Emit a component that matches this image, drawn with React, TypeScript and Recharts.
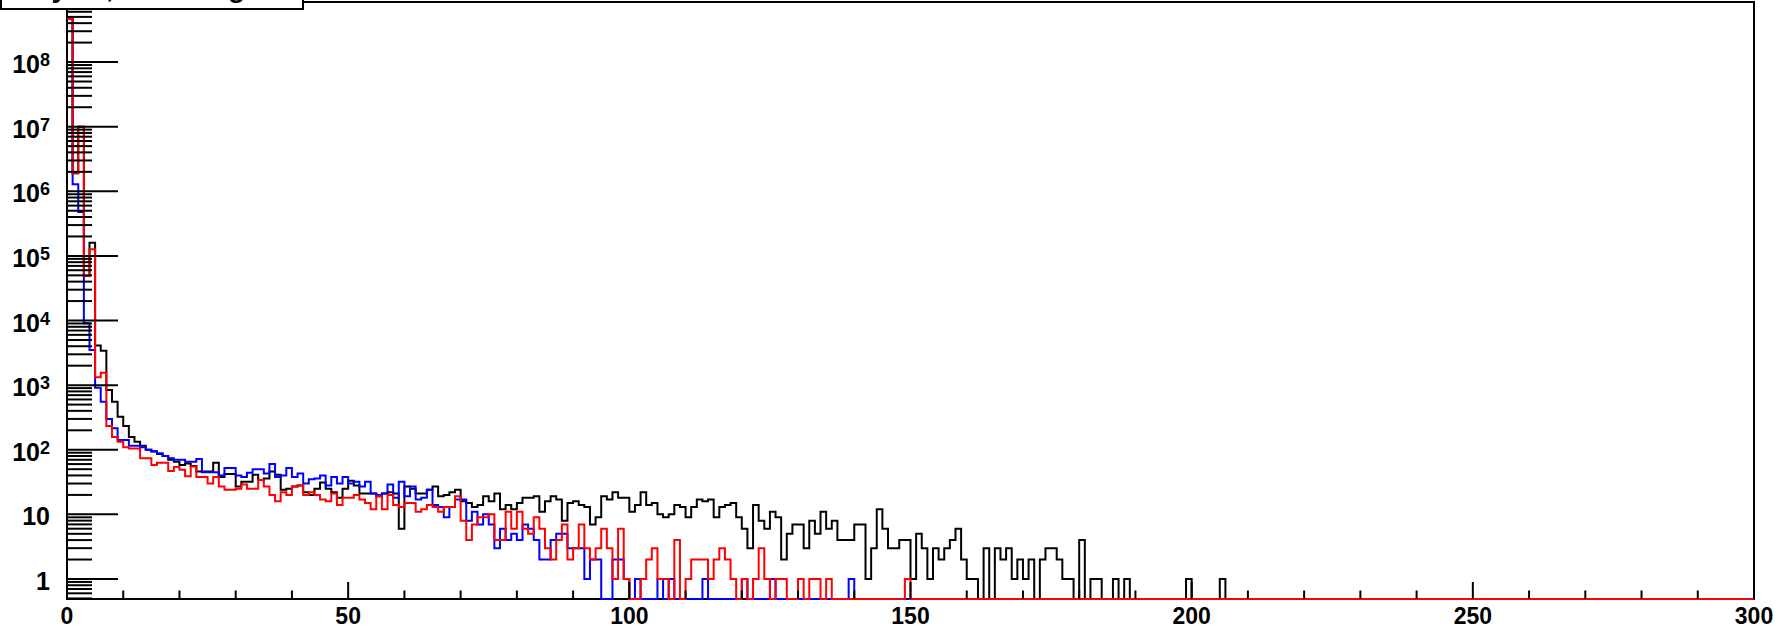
import React from 'react';
import { LineChart, Line, XAxis, YAxis, ReferenceArea } from 'recharts';

// canvas + axis ranges
const W = 1790;
const H = 631;
const X_MAX = 300;
const Y_MIN = 0.49;
const Y_MAX = 8.5e8;

// counts per bin (bin width 1)
const blackCounts = [
  4.7e8, 1.9e6, 1.0e7, 4.9e4, 1.6e5, 4100, 3400, 840, 555, 325,
  233, 158, 133, 115, 100, 94, 86, 80, 70, 65,
  58, 61, 56, 46, 46, 46, 63, 38, 42, 42,
  27, 32, 32, 41, 34, 36, 46, 41, 24, 25,
  27, 28, 22, 20, 25, 31, 25, 22, 18, 25,
  33, 28, 21, 21, 21, 19, 21, 22, 21, 6,
  27, 25, 21, 21, 24, 27, 19, 20, 22, 24,
  16, 15, 13, 14, 19, 16, 21, 12, 14, 12,
  15, 18, 18, 19, 11, 16, 19, 17, 8, 15,
  16, 14, 13, 7, 9, 19, 17, 22, 18, 18,
  11, 14, 22, 14, 15, 10, 9, 10, 14, 13,
  9, 13, 17, 16, 17, 9, 13, 14, 15, 9,
  6, 3, 14, 8, 6, 11, 9, 2, 5, 7,
  7, 3, 8, 5, 11, 6, 8, 4, 4, 4,
  7, 7, 1, 3, 12, 6, 3, 3, 4, 4,
  1, 5, 3, 1, 3, 2, 3, 4, 6, 2,
  1, 1, 0, 3, 0, 3, 2, 3, 1, 2,
  1, 2, 0, 2, 3, 3, 2, 1, 1, 0,
  4, 0, 1, 1, 0, 0, 1, 0, 1, 0,
  0, 0, 0, 0, 0, 0, 0, 0, 0, 1,
  0, 0, 0, 0, 0, 1, 0,
];

const blueCounts = [
  4.7e8, 1.28e6, 4.8e5, 9100, 3500, 910, 555, 300, 215, 141,
  141, 115, 115, 109, 100, 95, 88, 80, 74, 70,
  70, 65, 65, 72, 45, 45, 45, 40, 52, 52,
  40, 38, 44, 50, 50, 43, 60, 38, 40, 52,
  38, 43, 30, 35, 36, 40, 28, 38, 30, 38,
  30, 32, 27, 32, 21, 20, 21, 29, 18, 32,
  19, 27, 17, 18, 24, 14, 13, 9, 13, 17,
  17, 8, 11, 7, 10, 7, 3, 6, 4, 5,
  4, 7, 6, 4, 2, 2, 4, 5, 5, 3,
  3, 3, 1, 2, 2, 0, 0, 2, 2, 1,
  0, 1, 0, 0, 0, 1, 0, 1, 0, 0,
  0, 0, 0, 1, 0, 0, 0, 0, 0, 0,
  1, 0, 0, 0, 0, 1, 0, 0, 0, 0,
  0, 0, 0, 0, 0, 0, 0, 0, 0, 1,
  0,
];

const redCounts = [
  4.7e8, 1.9e6, 1.0e7, 4.9e4, 1.27e5, 1320, 1560, 233, 158, 133,
  109, 105, 105, 74, 74, 58, 63, 63, 47, 54,
  49, 39, 55, 38, 38, 30, 38, 27, 24, 24,
  25, 29, 25, 25, 34, 27, 20, 16, 22, 20,
  27, 28, 20, 22, 20, 17, 16, 21, 14, 18,
  18, 20, 17, 15, 12, 19, 12, 20, 14, 13,
  15, 15, 11, 12, 14, 13, 11, 13, 13, 19,
  8, 4, 7, 9, 9, 10, 4, 4, 11, 6,
  11, 6, 5, 9, 6, 3, 2, 4, 7, 2,
  3, 7, 3, 2, 3, 6, 3, 1, 6, 1,
  0, 0, 1, 2, 3, 1, 1, 0, 4, 0,
  1, 2, 2, 2, 1, 2, 3, 2, 1, 0,
  1, 0, 1, 3, 1, 0, 1, 1, 0, 0,
  1, 0, 1, 1, 0, 1, 0, 0, 0, 0,
  0, 0, 0, 0, 0, 0, 0, 0, 0, 1,
  0,
];

const xTicks = [0, 10, 20, 30, 40, 50, 60, 70, 80, 90, 100, 110, 120, 130, 140, 150, 160, 170, 180, 190, 200,
  210, 220, 230, 240, 250, 260, 270, 280, 290, 300];
const xLabelStep = 50;

const yTicks: number[] = [];
for (let e = -1; e <= 8; e++) {
  for (let m = 1; m <= 9; m++) {
    const v = m * Math.pow(10, e);
    if (v >= Y_MIN && v <= Y_MAX) yTicks.push(v);
  }
}

const FONT = '"Liberation Sans", Arial, Helvetica, sans-serif';

// histogram -> stepAfter points, empty bins sit on the axis floor
const toSteps = (counts: number[]) => {
  const pts = counts.map((c, i) => ({ x: i, y: c > 0 ? c : Y_MIN }));
  pts.push({ x: X_MAX, y: Y_MIN });
  return pts;
};

const YTick = (props: any) => {
  const { x, y, payload } = props;
  const v = payload.value as number;
  const e = Math.floor(Math.log10(v) + 1e-9);
  const m = Math.round(v / Math.pow(10, e));
  const major = m === 1;
  let label: React.ReactNode = null;
  if (major) {
    if (e === 0) label = '1';
    else if (e === 1) label = '10';
    else label = (
      <>
        10<tspan dy={-7} fontSize={18}>{e}</tspan>
      </>
    );
  }
  return (
    <g>
      <line x1={x} x2={x + (major ? 51 : 25)} y1={y} y2={y} stroke="#000" strokeWidth={2} />
      {major && (
        <text x={x - 17} y={y + 11} textAnchor="end" fontSize={25} fontWeight="bold" fontFamily={FONT} fill="#000">
          {label}
        </text>
      )}
    </g>
  );
};

const XTick = (props: any) => {
  const { x, y, payload } = props;
  const v = payload.value as number;
  const major = v % xLabelStep === 0;
  return (
    <g>
      <line x1={x} x2={x} y1={y} y2={y - (major ? 17 : 8.5)} stroke="#000" strokeWidth={2} />
      {major && (
        <text x={x} y={y + 25} textAnchor="middle" fontSize={23} fontWeight="bold" fontFamily={FONT} fill="#000">
          {v}
        </text>
      )}
    </g>
  );
};

const App = () => {
  const black = toSteps(blackCounts);
  const blue = toSteps(blueCounts);
  const red = toSteps(redCounts);

  return (
    <div style={{ position: 'absolute', left: 0, top: 0, width: W, height: H, background: '#fff', overflow: 'hidden' }}>
      <LineChart width={W} height={H} margin={{ top: 2, right: 36, bottom: 0, left: 0 }}>
        <XAxis
          type="number"
          dataKey="x"
          domain={[0, X_MAX]}
          ticks={xTicks}
          interval={0}
          tickSize={0}
          tickMargin={0}
          tickLine={false}
          axisLine={false}
          height={32}
          tick={<XTick />}
        />
        <YAxis
          type="number"
          dataKey="y"
          scale="log"
          domain={[Y_MIN, Y_MAX]}
          ticks={yTicks}
          interval={0}
          tickSize={0}
          tickMargin={0}
          tickLine={false}
          axisLine={false}
          width={67}
          tick={<YTick />}
        />
        <ReferenceArea x1={0} x2={X_MAX} y1={Y_MIN} y2={Y_MAX} fill="none" stroke="#000" strokeWidth={2} ifOverflow="visible" />
        <Line data={black} dataKey="y" type="stepAfter" stroke="#000000" strokeWidth={2} dot={false} isAnimationActive={false} />
        <Line data={blue} dataKey="y" type="stepAfter" stroke="#0000ff" strokeWidth={2} dot={false} isAnimationActive={false} />
        <Line data={red} dataKey="y" type="stepAfter" stroke="#ff0000" strokeWidth={2} dot={false} isAnimationActive={false} />
      </LineChart>
      {/* title box, mostly above the visible area */}
      <svg width={320} height={20} style={{ position: 'absolute', left: 0, top: 0 }}>
        <rect x={1} y={-40} width={302} height={49} fill="#fff" stroke="#000" strokeWidth={2} />
        <text x={-6} y={-3} fontSize={28} fontWeight="bold" fontFamily={FONT} fill="#000">
          Array 10, Total Avg
        </text>
      </svg>
    </div>
  );
};

export default App;
